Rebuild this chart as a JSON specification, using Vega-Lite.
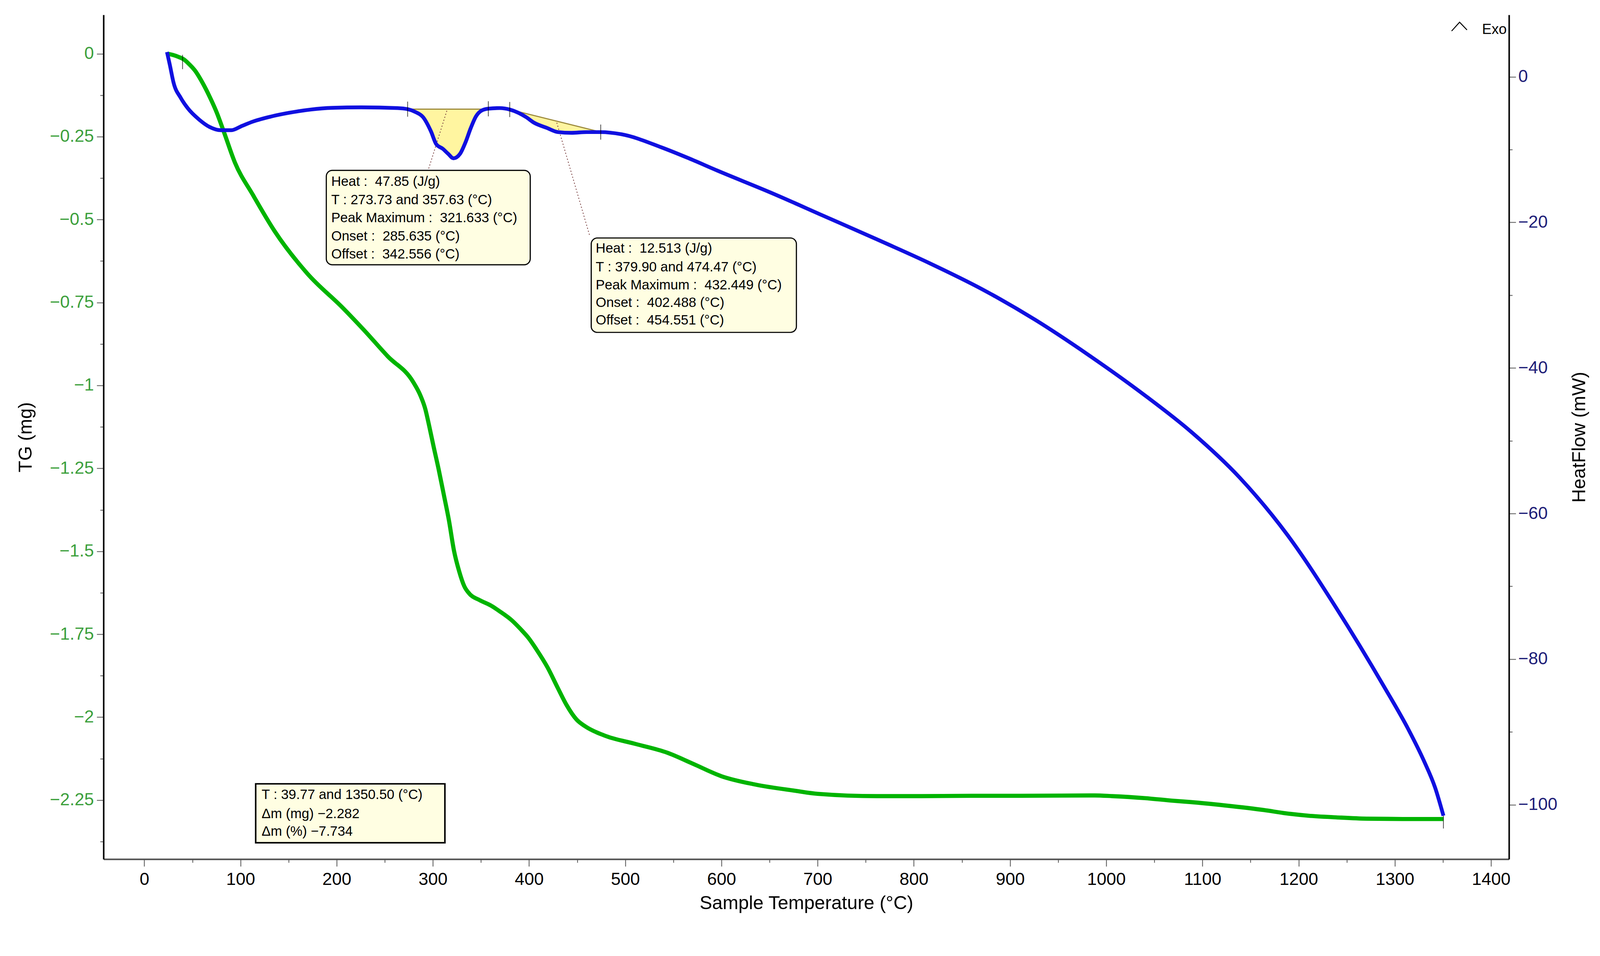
{
  "$schema": "https://vega.github.io/schema/vega-lite/v6.json",
  "width": 3598,
  "height": 2162,
  "autosize": "none",
  "padding": {"left": 265, "top": 38, "right": 233, "bottom": 167},
  "background": "white",
  "config": {"view": {"stroke": null}, "font": "Liberation Sans"},
  "datasets": {
    "tg": [
      {"T": 24, "tg": 0.0}, {"T": 30, "tg": -0.004}, {"T": 36, "tg": -0.01}, {"T": 41, "tg": -0.017},
      {"T": 45.4, "tg": -0.028}, {"T": 53, "tg": -0.052}, {"T": 60.4, "tg": -0.087}, {"T": 68, "tg": -0.13},
      {"T": 75.4, "tg": -0.178}, {"T": 82.9, "tg": -0.237}, {"T": 94.2, "tg": -0.328}, {"T": 113, "tg": -0.426},
      {"T": 135.5, "tg": -0.535}, {"T": 169.3, "tg": -0.662}, {"T": 207, "tg": -0.768}, {"T": 229, "tg": -0.835},
      {"T": 253, "tg": -0.912}, {"T": 279.6, "tg": -0.99}, {"T": 287, "tg": -1.03}, {"T": 292, "tg": -1.07},
      {"T": 296, "tg": -1.12}, {"T": 300.8, "tg": -1.185}, {"T": 306, "tg": -1.253},
      {"T": 311.4, "tg": -1.33}, {"T": 316.7, "tg": -1.407}, {"T": 322, "tg": -1.499}, {"T": 327.3, "tg": -1.56},
      {"T": 332.6, "tg": -1.605}, {"T": 338, "tg": -1.628}, {"T": 348.5, "tg": -1.647}, {"T": 360, "tg": -1.663},
      {"T": 370, "tg": -1.682}, {"T": 382, "tg": -1.708}, {"T": 391, "tg": -1.734}, {"T": 399.6, "tg": -1.762},
      {"T": 407.5, "tg": -1.795}, {"T": 419.2, "tg": -1.85}, {"T": 429.7, "tg": -1.911}, {"T": 438.9, "tg": -1.963},
      {"T": 449.3, "tg": -2.007}, {"T": 458.5, "tg": -2.028}, {"T": 478, "tg": -2.055}, {"T": 511, "tg": -2.081},
      {"T": 543.5, "tg": -2.107}, {"T": 570, "tg": -2.14}, {"T": 600, "tg": -2.178}, {"T": 635, "tg": -2.203},
      {"T": 677, "tg": -2.222}, {"T": 700, "tg": -2.231}, {"T": 762, "tg": -2.238}, {"T": 805, "tg": -2.238},
      {"T": 860, "tg": -2.237}, {"T": 910, "tg": -2.237}, {"T": 988, "tg": -2.236}, {"T": 1006, "tg": -2.238},
      {"T": 1040, "tg": -2.244}, {"T": 1070, "tg": -2.252}, {"T": 1088, "tg": -2.256}, {"T": 1123, "tg": -2.266},
      {"T": 1164, "tg": -2.28}, {"T": 1187, "tg": -2.29}, {"T": 1210, "tg": -2.297}, {"T": 1239, "tg": -2.302},
      {"T": 1271, "tg": -2.306}, {"T": 1310, "tg": -2.307}, {"T": 1350.5, "tg": -2.307}
    ],
    "tgTicks": [
      {"T": 39.77, "tg": -0.025},
      {"T": 1350.5, "tg": -2.314}
    ],
    "boxes": [
      {"box": "peak1", "T": 189.2, "T2": 401.2, "tg": -0.3517, "tg2": -0.6363},
      {"box": "peak2", "T": 464.6, "T2": 677.9, "tg": -0.5555, "tg2": -0.8401},
      {"box": "mass", "T": 115.8, "T2": 312.5, "tg": -2.2009, "tg2": -2.3785}
    ],
    "notes": [
      {"T": 194.3, "tg": -0.387, "label": "Heat :\u00a0 47.85 (J/g)"},
      {"T": 194.3, "tg": -0.4417, "label": "T : 273.73 and 357.63 (°C)"},
      {"T": 194.3, "tg": -0.4963, "label": "Peak Maximum :\u00a0 321.633 (°C)"},
      {"T": 194.3, "tg": -0.5509, "label": "Onset :\u00a0 285.635 (°C)"},
      {"T": 194.3, "tg": -0.6056, "label": "Offset :\u00a0 342.556 (°C)"},
      {"T": 469.3, "tg": -0.5885, "label": "Heat :\u00a0 12.513 (J/g)"},
      {"T": 469.3, "tg": -0.6439, "label": "T : 379.90 and 474.47 (°C)"},
      {"T": 469.3, "tg": -0.6989, "label": "Peak Maximum :\u00a0 432.449 (°C)"},
      {"T": 469.3, "tg": -0.7513, "label": "Onset :\u00a0 402.488 (°C)"},
      {"T": 469.3, "tg": -0.8048, "label": "Offset :\u00a0 454.551 (°C)"},
      {"T": 122.0, "tg": -2.2353, "label": "T : 39.77 and 1350.50 (°C)"},
      {"T": 122.0, "tg": -2.2925, "label": "Δm (mg) −2.282"},
      {"T": 122.0, "tg": -2.346, "label": "Δm (%) −7.734"}
    ],
    "exo": [{"T": 1416.3, "tg": 0.0729, "label": "Exo"}],
    "chevron": [
      {"T": 1359.0, "tg": 0.0683},
      {"T": 1367.3, "tg": 0.095},
      {"T": 1375.0, "tg": 0.0717}
    ],
    "hf": [
      {"T": 23.6, "hf": 3.4}, {"T": 26.6, "hf": 1.6}, {"T": 30.4, "hf": -0.8}, {"T": 37.9, "hf": -2.9},
      {"T": 45.4, "hf": -4.36}, {"T": 56.7, "hf": -5.85}, {"T": 67.9, "hf": -6.9}, {"T": 79.2, "hf": -7.34},
      {"T": 90.5, "hf": -7.34}, {"T": 101.7, "hf": -6.74}, {"T": 113, "hf": -6.15}, {"T": 131.8, "hf": -5.46},
      {"T": 150.6, "hf": -4.95}, {"T": 173.1, "hf": -4.5}, {"T": 195.6, "hf": -4.27}, {"T": 225.7, "hf": -4.2},
      {"T": 263.2, "hf": -4.3}, {"T": 273.73, "hf": -4.45}, {"T": 282, "hf": -4.85}, {"T": 289.8, "hf": -5.55},
      {"T": 298, "hf": -7.5}, {"T": 303.5, "hf": -9.26}, {"T": 310.4, "hf": -9.9}, {"T": 316, "hf": -10.6},
      {"T": 321.4, "hf": -11.2}, {"T": 328.3, "hf": -10.57}, {"T": 333.8, "hf": -9.04}, {"T": 339.3, "hf": -7.07},
      {"T": 344.8, "hf": -5.44}, {"T": 350.3, "hf": -4.67}, {"T": 357.63, "hf": -4.38}, {"T": 369.6, "hf": -4.3},
      {"T": 379.9, "hf": -4.5}, {"T": 388.9, "hf": -4.95}, {"T": 397, "hf": -5.55}, {"T": 405, "hf": -6.3},
      {"T": 418, "hf": -7.0}, {"T": 430, "hf": -7.6}, {"T": 444, "hf": -7.7}, {"T": 460, "hf": -7.6},
      {"T": 474.47, "hf": -7.6}, {"T": 496, "hf": -7.9}, {"T": 537.6, "hf": -9.7}, {"T": 566, "hf": -11.2},
      {"T": 595.9, "hf": -12.9}, {"T": 651, "hf": -15.9}, {"T": 706, "hf": -19.1}, {"T": 761, "hf": -22.3},
      {"T": 816.2, "hf": -25.6}, {"T": 871.2, "hf": -29.2}, {"T": 926.3, "hf": -33.4}, {"T": 981.4, "hf": -38.2},
      {"T": 1038.5, "hf": -43.6}, {"T": 1088.5, "hf": -48.8}, {"T": 1138.6, "hf": -55.05}, {"T": 1188.7, "hf": -63.0},
      {"T": 1238.8, "hf": -72.9}, {"T": 1288.9, "hf": -83.8}, {"T": 1313.9, "hf": -89.6}, {"T": 1330, "hf": -93.9},
      {"T": 1342, "hf": -97.7}, {"T": 1350.5, "hf": -101.5}
    ],
    "peaks": [
      {"peak": 1, "T": 273.73, "hf": -4.45, "base": -4.45}, {"peak": 1, "T": 282, "hf": -4.85, "base": -4.45},
      {"peak": 1, "T": 289.8, "hf": -5.55, "base": -4.45}, {"peak": 1, "T": 298, "hf": -7.5, "base": -4.45},
      {"peak": 1, "T": 303.5, "hf": -9.26, "base": -4.45}, {"peak": 1, "T": 310.4, "hf": -9.9, "base": -4.45},
      {"peak": 1, "T": 316, "hf": -10.6, "base": -4.45}, {"peak": 1, "T": 321.4, "hf": -11.2, "base": -4.45},
      {"peak": 1, "T": 328.3, "hf": -10.57, "base": -4.45}, {"peak": 1, "T": 333.8, "hf": -9.04, "base": -4.45},
      {"peak": 1, "T": 339.3, "hf": -7.07, "base": -4.45}, {"peak": 1, "T": 344.8, "hf": -5.44, "base": -4.45},
      {"peak": 1, "T": 350.3, "hf": -4.67, "base": -4.45}, {"peak": 1, "T": 357.63, "hf": -4.45, "base": -4.45},
      {"peak": 2, "T": 379.9, "hf": -4.5, "base": -4.5}, {"peak": 2, "T": 388.9, "hf": -4.95, "base": -4.8},
      {"peak": 2, "T": 397, "hf": -5.55, "base": -5.06}, {"peak": 2, "T": 405, "hf": -6.3, "base": -5.32},
      {"peak": 2, "T": 418, "hf": -7.0, "base": -5.75}, {"peak": 2, "T": 430, "hf": -7.6, "base": -6.14},
      {"peak": 2, "T": 444, "hf": -7.7, "base": -6.6}, {"peak": 2, "T": 460, "hf": -7.6, "base": -7.12},
      {"peak": 2, "T": 474.47, "hf": -7.6, "base": -7.6}
    ],
    "baselines": [
      {"T": 273.73, "hf": -4.45, "T2": 357.63, "hf2": -4.45},
      {"T": 379.9, "hf": -4.5, "T2": 474.47, "hf2": -7.6}
    ],
    "leaders": [
      {"T": 314.5, "hf": -4.67, "T2": 295.3, "hf2": -12.76},
      {"T": 428.8, "hf": -6.31, "T2": 463.2, "hf2": -21.92}
    ],
    "hfTicks": [
      {"T": 273.73, "hf": -4.45},
      {"T": 357.63, "hf": -4.4},
      {"T": 379.9, "hf": -4.5},
      {"T": 474.47, "hf": -7.6}
    ]
  },
  "encoding": {
    "x": {
      "field": "T",
      "type": "quantitative",
      "scale": {"domain": [-42.39, 1418.65], "nice": false, "zero": false},
      "axis": {
        "title": "Sample Temperature (°C)",
        "values": [0, 50, 100, 150, 200, 250, 300, 350, 400, 450, 500, 550, 600, 650, 700, 750, 800, 850, 900, 950, 1000, 1050, 1100, 1150, 1200, 1250, 1300, 1350, 1400],
        "labelExpr": "datum.value % 100 == 0 ? format(datum.value, 'd') : ''",
        "grid": false,
        "domainColor": "#505050",
        "domainWidth": 3.9,
        "tickColor": "#505050",
        "tickWidth": 2,
        "tickSize": {"condition": {"test": "datum.value % 100 != 0", "value": 8.7}, "value": 18.4},
        "labelColor": "black",
        "labelFontSize": 44.5,
        "labelPadding": 11.6,
        "labelFlush": false,
        "labelOverlap": false,
        "titleFontSize": 48.3,
        "titleFontWeight": "normal",
        "titleColor": "black",
        "titlePadding": 15.5
      }
    }
  },
  "layer": [
    {
      "encoding": {
        "y": {
          "field": "tg",
          "type": "quantitative",
          "scale": {"domain": [-2.428, 0.1172], "nice": false, "zero": false},
          "axis": {
            "title": "TG (mg)",
            "orient": "left",
            "values": [0, -0.125, -0.25, -0.375, -0.5, -0.625, -0.75, -0.875, -1, -1.125, -1.25, -1.375, -1.5, -1.625, -1.75, -1.875, -2, -2.125, -2.25, -2.375],
            "labelExpr": "abs(datum.value * 4 - round(datum.value * 4)) < 0.001 ? format(datum.value, '.4~g') : ''",
            "grid": false,
            "domainColor": "black",
            "domainWidth": 3.9,
            "tickColor": "#555555",
            "tickWidth": 2,
            "tickSize": {"condition": {"test": "abs(datum.value * 4 - round(datum.value * 4)) > 0.001", "value": 8.7}, "value": 17.4},
            "labelColor": "#3ca03c",
            "labelFontSize": 44.5,
            "labelPadding": 7.7,
            "labelOverlap": false,
            "titleFontSize": 48.3,
            "titleFontWeight": "normal",
            "titleColor": "black",
            "titlePadding": 36.7
          }
        }
      },
      "layer": [
        {
          "data": {"name": "tg"},
          "mark": {"type": "line", "color": "#00b400", "strokeWidth": 10.6, "interpolate": "monotone"}
        },
        {
          "data": {"name": "tgTicks"},
          "mark": {"type": "tick", "orient": "vertical", "color": "black", "size": 36.7, "thickness": 2}
        },
        {
          "data": {"name": "boxes"},
          "transform": [{"filter": "datum.box != 'mass'"}],
          "mark": {"type": "rect", "fill": "#fffee2", "stroke": "black", "strokeWidth": 2.9, "cornerRadius": 15.5},
          "encoding": {"x2": {"field": "T2"}, "y2": {"field": "tg2"}}
        },
        {
          "data": {"name": "boxes"},
          "transform": [{"filter": "datum.box == 'mass'"}],
          "mark": {"type": "rect", "fill": "#fffee2", "stroke": "black", "strokeWidth": 3.9},
          "encoding": {"x2": {"field": "T2"}, "y2": {"field": "tg2"}}
        },
        {
          "data": {"name": "notes"},
          "mark": {"type": "text", "align": "left", "baseline": "middle", "fontSize": 34.8, "color": "black"},
          "encoding": {"text": {"field": "label"}}
        },
        {
          "data": {"name": "exo"},
          "mark": {"type": "text", "align": "right", "baseline": "middle", "fontSize": 36.7, "color": "black"},
          "encoding": {"text": {"field": "label"}}
        },
        {
          "data": {"name": "chevron"},
          "mark": {"type": "line", "color": "black", "strokeWidth": 2.4}
        }
      ]
    },
    {
      "encoding": {
        "y": {
          "field": "hf",
          "type": "quantitative",
          "scale": {"domain": [-107.47, 8.506], "nice": false, "zero": false},
          "axis": {
            "title": "HeatFlow (mW)",
            "orient": "right",
            "values": [0, -10, -20, -30, -40, -50, -60, -70, -80, -90, -100],
            "labelExpr": "datum.value % 20 == 0 ? format(datum.value, 'd') : ''",
            "grid": false,
            "domainColor": "black",
            "domainWidth": 3.9,
            "tickColor": "#555555",
            "tickWidth": 2,
            "tickSize": {"condition": {"test": "datum.value % 20 != 0", "value": 8.7}, "value": 17.4},
            "labelColor": "#1e1e78",
            "labelFontSize": 44.5,
            "labelPadding": 5.8,
            "labelOverlap": false,
            "titleFontSize": 48.3,
            "titleFontWeight": "normal",
            "titleColor": "black",
            "titleAngle": 270,
            "titleBaseline": "top",
            "titlePadding": 32.9
          }
        }
      },
      "layer": [
        {
          "data": {"name": "peaks"},
          "mark": {"type": "area", "fill": "#fff5a0", "opacity": 1},
          "encoding": {"y2": {"field": "base"}, "detail": {"field": "peak", "type": "nominal"}}
        },
        {
          "data": {"name": "baselines"},
          "mark": {"type": "rule", "color": "#9c8a3c", "strokeWidth": 2.9},
          "encoding": {"x2": {"field": "T2"}, "y2": {"field": "hf2"}}
        },
        {
          "data": {"name": "leaders"},
          "mark": {"type": "rule", "color": "#7a4040", "strokeWidth": 2, "strokeDash": [3, 5]},
          "encoding": {"x2": {"field": "T2"}, "y2": {"field": "hf2"}}
        },
        {
          "data": {"name": "hf"},
          "mark": {"type": "line", "color": "#1010e0", "strokeWidth": 9.7, "interpolate": "monotone"}
        },
        {
          "data": {"name": "hfTicks"},
          "mark": {"type": "tick", "orient": "vertical", "color": "black", "size": 38.7, "thickness": 2}
        }
      ]
    }
  ],
  "resolve": {"scale": {"y": "independent"}}
}
